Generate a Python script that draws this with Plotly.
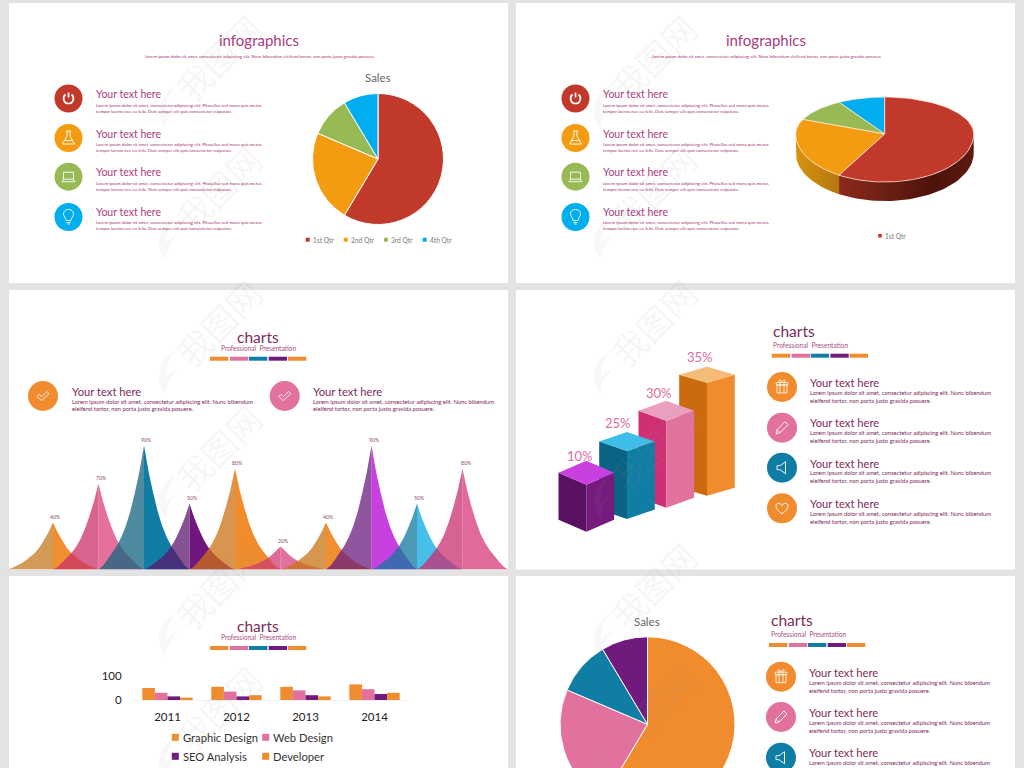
import numpy as np
import plotly.graph_objects as go

W, H = 1024, 830
FONT = "Lato"

# ---------- data ----------
pie_labels = ["1st Qtr", "2nd Qtr", "3rd Qtr", "4th Qtr"]
pie_values = [8.2, 3.2, 1.4, 1.2]
peak_labels = ["40%", "70%", "90%", "50%", "80%", "20%", "40%", "90%", "50%", "80%"]
peak_heights = [47, 86, 124, 66, 101, 23, 47, 124, 66, 101]
peak_profile = [1, .79, .62, .47, .35, .26, .19, .13, .08, .03, 0]
column_labels = ["10%", "25%", "30%", "35%"]
column_heights = [47, 68, 87, 113]
years = ["2011", "2012", "2013", "2014"]
graphic_design = [50, 55, 55, 65]
web_design = [30, 35, 40, 45]
seo_analysis = [15, 15, 20, 25]
developer = [10, 20, 15, 30]

# ---------- palette ----------
BG = "#E3E3E3"
RED, AMB, GRN, SKY = "#C0392B", "#F39C12", "#97BA55", "#00AEEF"
ORG, PNK, TEA, PUR = "#F08C2E", "#E2719E", "#0F7DA4", "#701A7E"
MAG, PLM = "#A83B80", "#7E2A5A"
LOREM_A = "Lorem ipsum dolor sit amet, consectetur adipiscing elit. Nunc bibendum eleifend tortor, non porta justo gravida posuere."
LOREM_B1 = "Lorem ipsum dolor sit amet, consectetur adipiscing elit. Phasellus sed mana quis metus"
LOREM_B2 = "tempor lacinia nec eu felis. Duis semper elit quis consectetur vulputate."
LOREM_C1 = "Lorem ipsum dolor sit amet, consectetur adipiscing elit. Nunc bibendum"
LOREM_C2 = "eleifend tortor, non porta justo gravida posuere."

fig = go.Figure()
shapes, annos = [], []


def text(x, y, s, size, color, anchor="left", **kw):
    if anchor == "left":
        x -= 0.8
    annos.append(dict(x=x, y=y, xref="x", yref="y", text=s, showarrow=False, xanchor=anchor, yanchor="middle",
                      borderpad=0, font=dict(family=kw.pop("family", FONT), size=size, color=color), **kw))


def rect(x0, y0, x1, y1, color, layer="below"):
    shapes.append(dict(type="rect", xref="x", yref="y", x0=x0, y0=y0, x1=x1, y1=y1, layer=layer,
                       fillcolor=color, line=dict(width=0)))


def disc(cx, cy, r, color):
    shapes.append(dict(type="circle", xref="x", yref="y", x0=cx - r, y0=cy - r, x1=cx + r, y1=cy + r, layer="above",
                       fillcolor=color, line=dict(width=0)))


def icon(cx, cy, d, width=0.8, scale=1.0, fill=None, color="white"):
    out, num = [], 0
    for tok in d.split():
        if tok.isalpha():
            out.append(tok)
            if tok in "MLCQTSHV":
                cmd, num = tok, 0
        else:
            v = float(tok) * scale
            if cmd == "H":
                out.append(f"{cx + v:.2f}")
            elif cmd == "V":
                out.append(f"{cy + v:.2f}")
            else:
                out.append(f"{(cx + v) if num % 2 == 0 else (cy + v):.2f}")
                num += 1
    shapes.append(dict(type="path", xref="x", yref="y", path=" ".join(out), layer="above",
                       fillcolor=fill or "rgba(0,0,0,0)", line=dict(color=color, width=width)))


ICONS = {
    "power": ("M -3 -4 C -6.5 -1.5 -5 5 0 5 C 5 5 6.5 -1.5 3 -4 M 0 -6 L 0 -1", 1.7),
    "flask": ("M -2.5 -7 H 2.5 M -1.5 -7 V -2 L -6 6 H 6 L 1.5 -2 V -7 M -3.8 2.5 H 3.8", .9),
    "laptop": ("M -5 -4.5 H 5 V 2.5 H -5 Z M -5 2.5 L -6.5 5 H 6.5 L 5 2.5", .9),
    "bulb": ("M -2.5 3.5 C -2.5 1 -5 -.5 -5 -3.2 C -5 -9 5 -9 5 -3.2 C 5 -.5 2.5 1 2.5 3.5 Z M -2 5.5 H 2 M -1.2 7 H 1.2", .9),
    "check": ("M -6 .5 L -3.8 -1.8 L -1.4 .6 L 4 -4.5 L 6 -2.3 L -1.4 4.6 Z", .8),
    "gift": ("M -5 -2 H 5 V 6 H -5 Z M -5.8 -4.5 H 5.8 V -2 H -5.8 Z M -2 -4.5 V 6 M 2 -4.5 V 6 M -2 -4.5 C -5 -8 -1 -8 0 -4.5 C 1 -8 5 -8 2 -4.5", .8),
    "pencil": ("M -6 6 L -5 2 L 3 -6 L 6 -3 L -2 5 Z M -5 2 L -2 5", .9),
    "speaker": ("M -5 -2 H -2 L 3.5 -6 V 6 L -2 2 H -5 Z", .9),
    "heart": ("M 0 5.5 C -9 -.5 -6 -6 -2.8 -5 C -1.3 -4.6 -.5 -3.5 0 -2.6 C .5 -3.5 1.3 -4.6 2.8 -5 C 6 -6 9 -.5 0 5.5 Z", .9),
}


def ico(cx, cy, name, scale=1.0):
    d, w = ICONS[name]
    icon(cx, cy, d, width=w, scale=scale)


def strip(x0, y0):
    starts = [0, 20, 39, 58.7, 78]
    cols = [ORG, PNK, TEA, PUR, ORG]
    for s, c in zip(starts, cols):
        rect(x0 + s, y0, x0 + s + 18.3, y0 + 4, c)


# ---------- slides ----------
rect(9, 3, 508, 283, "white")
rect(516, 3, 1015, 283, "white")
rect(9, 290, 508, 569.5, "white")
rect(516, 290, 1015, 569.5, "white")
rect(9, 576, 508, 830, "white")
rect(516, 576, 1015, 830, "white")

# watermark
for wx in (218, 653):
    for wy in (57, 188, 322, 447, 585, 708):
        text(wx, wy, "我图网", 34, "rgba(150,150,150,0.09)", anchor="center", textangle=-45,
             family="Noto Sans CJK SC")
        icon(wx - 50, wy + 50, "M 8 -22 C -10 -12 -14 8 -2 22 C -2 10 4 2 12 -4 C 4 -2 0 2 -2 6 C -3 -4 2 -14 8 -22 Z",
             width=0, fill="rgba(150,150,150,0.07)")

# slide 1 and 2 headers and rows
rows_y = [98.5, 138, 176.7, 217]
head_y = [94.3, 133.7, 172.3, 211.7]
row_cols = [RED, AMB, GRN, SKY]
row_icons = ["power", "flask", "laptop", "bulb"]
for dx, tx, sx in ((0, 258.5, 259.5), (507, 766, 767)):
    text(tx, 40, "infographics", 15, MAG, "center")
    text(sx, 56, LOREM_A, 4.4, "#A8306E", "center")
    for cy, hy, c, ic in zip(rows_y, head_y, row_cols, row_icons):
        disc(68.5 + dx, cy, 14, c)
        ico(68.5 + dx, cy, ic)
        text(96 + dx, hy, "Your text here", 10.5, MAG)
        text(96 + dx, hy + 11, LOREM_B1, 4.4, "#A8306E")
        text(96 + dx, hy + 16.7, LOREM_B2, 4.4, "#A8306E")

# pie slide 1
fig.add_trace(go.Pie(labels=pie_labels, values=pie_values, sort=False, direction="clockwise", rotation=0,
                     textinfo="none", hoverinfo="skip", showlegend=False,
                     marker=dict(colors=[RED, AMB, GRN, SKY], line=dict(color="white", width=1)),
                     domain=dict(x=[312.5 / W, 443.5 / W], y=[1 - 224.5 / H, 1 - 93.5 / H])))
text(378, 77.7, "Sales", 11.5, "#666666", "center")
for sqx, tx, lab, c in zip((307.7, 345.7, 386, 424.7), (312.3, 350.3, 390.7, 429.7), pie_labels, row_cols):
    rect(sqx - 2, 237.7, sqx + 2, 241.7, c)
    text(tx, 239.7, lab, 6.6, "#777777")
rect(878.2, 233.9, 881.8, 237.5, RED)
text(884.7, 235.7, pie_labels[0], 6.6, "#777777")

# 3D pie slide 2
cx3, cy3, rx3, ry_t, ry_b, depth = 884.7, 134, 89, 37, 48, 19


def ell(th):
    th = np.asarray(th, float)
    ry = np.where(np.cos(th) > 0, ry_t, ry_b)
    return cx3 + rx3 * np.sin(th), cy3 - ry * np.cos(th)


fr = np.cumsum([0] + pie_values) / sum(pie_values) * 2 * np.pi
for a, b, scale in ((np.pi / 2, fr[1], [[0, "#8C2A1C"], [.7, "#4C130B"], [1, "#5E1A10"]]),
                    (fr[1], 3 * np.pi / 2, [[0, "#D8930F"], [1, "#B5770F"]])):
    t = np.linspace(a, b, 50)
    x, y = ell(t)
    fig.add_trace(go.Scatter(x=np.r_[x, x[::-1]], y=np.r_[y, y[::-1] + depth], mode="lines", fill="toself",
                             line=dict(width=0), hoverinfo="skip", showlegend=False,
                             fillgradient=dict(type="horizontal", colorscale=scale)))
for i in (3, 2, 1, 0):
    t = np.linspace(fr[i], fr[i + 1], 70)
    x, y = ell(t)
    fig.add_trace(go.Scatter(x=np.r_[cx3, x, cx3], y=np.r_[cy3, y, cy3], mode="lines", fill="toself",
                             fillcolor=row_cols[i], line=dict(color="rgba(255,240,225,0.85)", width=.8),
                             hoverinfo="skip", showlegend=False))

# slide 3 header
text(258, 336.8, "charts", 15.5, PLM, "center")
text(258, 347.5, "Professional  Presentation", 6.6, "#A94C82", "center")
strip(210, 356.7)
for cxx, c, tx in ((43, ORG, 71.3), (284.7, PNK, 312.7)):
    disc(cxx, 396, 15, c)
    ico(cxx, 396, "check")
    text(tx, 391.3, "Your text here", 11.2, PLM)
    text(tx, 401, LOREM_C1, 5.8, PLM)
    text(tx, 408.7, LOREM_C2, 5.8, PLM)

# peaks: right halves are opaque, left halves are see-through and lie on top
peak_left = ["#D49A58", "#D9648F", "#4E8BA0", "#855292", "#D9954F", "#DC6C97", "#D6964F", "#8F559F", "#4D9AB8", "#D76294"]
peak_right = ["#F08E30", "#E56F9D", "#0F7DA4", "#71157F", "#F08C2C", "#E271A0", "#F08E30", "#C840E0", "#48BFEA", "#E06A9C"]
LEFT_ALPHA = 0.75


def see_through(hex_on_white):
    rgb = np.array([int(hex_on_white[k:k + 2], 16) for k in (1, 3, 5)], float)
    true = np.clip((rgb - 255 * (1 - LEFT_ALPHA)) / LEFT_ALPHA, 0, 255).round().astype(int)
    return f"rgba({true[0]},{true[1]},{true[2]},{LEFT_ALPHA})"


prof = np.array(peak_profile)
tt = np.linspace(0, 1, len(prof))
for sign, cols in ((1, peak_right), (-1, [see_through(c) for c in peak_left])):
    for i, h in enumerate(peak_heights):
        fig.add_trace(go.Scatter(x=np.r_[i + sign * tt, i], y=np.r_[h * prof, 0], xaxis="x2", yaxis="y2",
                                 mode="lines", fill="toself", fillcolor=cols[i], line=dict(width=0),
                                 hoverinfo="skip", showlegend=False))
for i, h in enumerate(peak_heights):
    annos.append(dict(x=i + (.08 if i == 9 else .05), y=h, xref="x2", yref="y2", text=peak_labels[i], showarrow=False,
                      yanchor="bottom", yshift=2, borderpad=0, font=dict(family=FONT, size=5.2, color="#8A4A70")))

# slide 4
text(772.7, 330.7, "charts", 15.5, PLM)
text(772.7, 344.7, "Professional  Presentation", 6.6, "#A94C82")
strip(771.7, 353.7)
col4 = [ORG, PNK, TEA, ORG]
ic4 = ["gift", "pencil", "speaker", "heart"]
for cy, hy, c, ic in zip((387, 427.7, 467.7, 508.3), (382.3, 422.7, 463, 503.7), col4, ic4):
    disc(782, cy, 15, c)
    ico(782, cy, ic)
    text(810, hy, "Your text here", 11.2, PLM)
    text(810, hy + 9.7, LOREM_C1, 5.8, PLM)
    text(810, hy + 17.7, LOREM_C2, 5.8, PLM)

# isometric columns
col_x = [586.3, 627, 666.3, 707]
col_y = [531.7, 519, 507.7, 495.7]
col_rise = [12, 9.5, 10, 8]
col_hw = 27.8
col_faces = [("#5A1260", "#761A7E", "#C93FE0"), ("#0A6384", TEA, "#3FBDE9"),
             ("#D02F73", PNK, "#EBA0C2"), ("#CC6A10", ORG, "#F5BB78")]
label_pos = [(580, 456), (618, 423), (659, 393), (700, 357)]
for i in (3, 2, 1, 0):
    x, y, r, h = col_x[i], col_y[i], col_rise[i], column_heights[i]
    left, right, top = col_faces[i]
    polys = [([x, x - col_hw, x - col_hw, x], [y, y - r, y - r - h, y - h], left),
             ([x, x + col_hw, x + col_hw, x], [y, y - r, y - r - h, y - h], right),
             ([x, x + col_hw, x, x - col_hw], [y - h, y - h - r, y - h - 2 * r, y - h - r], top)]
    for px, py, c in polys:
        fig.add_trace(go.Scatter(x=px, y=py, mode="lines", fill="toself", fillcolor=c, line=dict(width=0),
                                 hoverinfo="skip", showlegend=False))
    text(label_pos[i][0], label_pos[i][1], column_labels[i], 13, "#DE6C9C", "center")

# slide 5
text(258, 626, "charts", 15.5, PLM, "center")
text(258, 636.7, "Professional  Presentation", 6.6, "#A94C82", "center")
strip(210, 646)
for name, vals, c in (("Graphic Design", graphic_design, ORG), ("Web Design", web_design, PNK),
                      ("SEO Analysis", seo_analysis, PUR), ("Developer", developer, ORG)):
    fig.add_trace(go.Bar(x=years, y=vals, name=name, marker=dict(color=c, line=dict(width=0)), xaxis="x3", yaxis="y3",
                         showlegend=False, hoverinfo="skip"))
legend_pos = [(175.3, 737.3, 182.7, "Graphic Design", ORG), (265.7, 737.3, 272.7, "Web Design", PNK),
              (175.3, 756.3, 182.7, "SEO Analysis", PUR), (265.7, 756.3, 272.7, "Developer", ORG)]
for sx, sy, tx, lab, c in legend_pos:
    rect(sx - 3.5, sy - 3.5, sx + 3.5, sy + 3.5, c)
    text(tx, sy, lab, 11.2, "#333333")

# slide 6
fig.add_trace(go.Pie(labels=pie_labels, values=pie_values, sort=False, direction="clockwise", rotation=0,
                     textinfo="none", hoverinfo="skip", showlegend=False,
                     marker=dict(colors=[ORG, PNK, TEA, PUR], line=dict(color="white", width=1)),
                     domain=dict(x=[560 / W, 735 / W], y=[1 - 811.8 / H, 1 - 636.8 / H])))
text(647, 621, "Sales", 11.5, "#666666", "center")
text(770.3, 620, "charts", 15.5, PLM)
text(770.3, 634, "Professional  Presentation", 6.6, "#A94C82")
strip(769, 643)
for cy, hy, c, ic in zip((676.7, 717, 757.7), (672, 712.3, 752.7), col4, ic4):
    disc(781, cy, 15, c)
    ico(781, cy, ic)
    text(808.7, hy, "Your text here", 11.2, PLM)
    text(808.7, hy + 10, LOREM_C1, 5.8, PLM)
    if hy + 18 < 765:
        text(808.7, hy + 18, LOREM_C2, 5.8, PLM)

hidden = dict(visible=False, fixedrange=True, automargin=False)
fig.update_layout(
    template="none",
    width=W, height=H, margin=dict(l=0, r=0, t=0, b=0, pad=0), autosize=False,
    paper_bgcolor=BG, plot_bgcolor="rgba(0,0,0,0)", font=dict(family=FONT),
    shapes=shapes, annotations=annos, barmode="group", bargap=.27, bargroupgap=0,
    xaxis=dict(range=[0, W], domain=[0, 1], anchor="y", **hidden),
    yaxis=dict(range=[H, 0], domain=[0, 1], anchor="x", **hidden),
    xaxis2=dict(range=[-1, 10], domain=[7.5 / W, 508 / W], anchor="y2", **hidden),
    yaxis2=dict(range=[0, 130], domain=[1 - 569.5 / H, 1 - 439.5 / H], anchor="x2", **hidden),
    xaxis3=dict(domain=[133 / W, 409 / W], anchor="y3", type="category", showgrid=False, showline=True, automargin=False,
                linecolor="#EDF1F1", linewidth=1, ticks="outside", ticklen=6, tickcolor="rgba(0,0,0,0)",
                tickfont=dict(family=FONT, size=11.5, color="#222222"), fixedrange=True),
    yaxis3=dict(domain=[1 - 700 / H, 1 - 676 / H], anchor="x3", range=[0, 100], tickvals=[0, 100], showgrid=True,
                automargin=False, gridcolor="#E9F0F0", zeroline=False, ticks="outside", ticklen=8,
                tickcolor="rgba(0,0,0,0)", tickfont=dict(family=FONT, size=11.5, color="#222222"), fixedrange=True),
)

post = """
document.documentElement.style.overflow='hidden';
document.body.style.margin='0';
document.body.style.overflow='hidden';
"""
fig.write_html("out.html", post_script=post, config=dict(displayModeBar=False))
